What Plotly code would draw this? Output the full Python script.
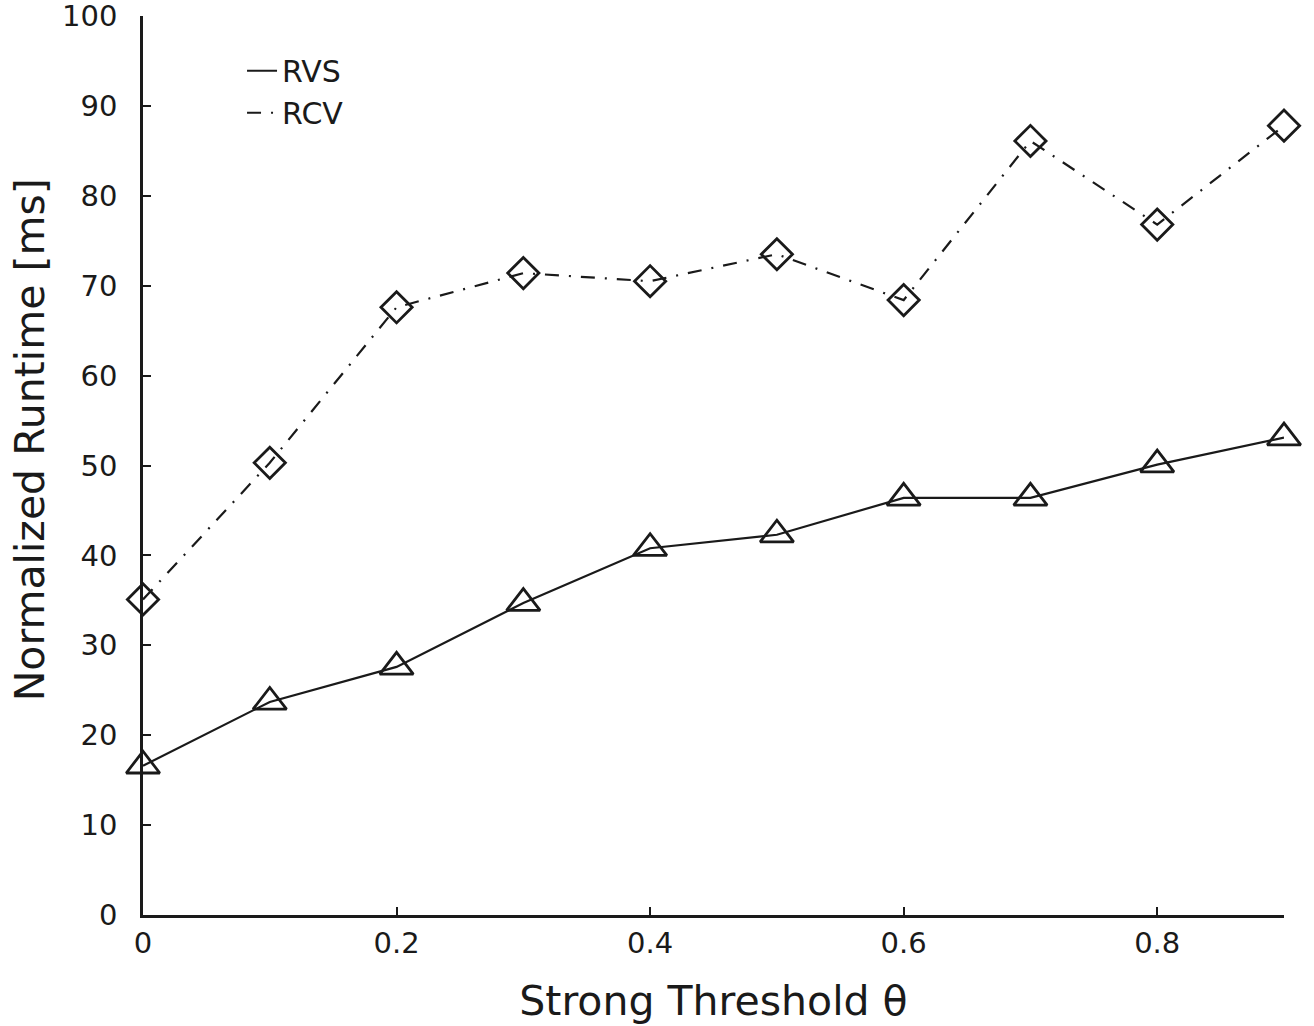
import plotly.graph_objects as go

# Strong threshold values on the x axis
theta = [0, 0.1, 0.2, 0.3, 0.4, 0.5, 0.6, 0.7, 0.8, 0.9]

# Normalized runtime [ms] per method
rvs = [16.6, 23.7, 27.6, 34.7, 40.8, 42.3, 46.4, 46.4, 50.1, 53.1]
rcv = [35.1, 50.3, 67.6, 71.4, 70.5, 73.5, 68.4, 86.1, 76.8, 87.8]

x_ticks = [0, 0.2, 0.4, 0.6, 0.8]
x_tick_labels = ["0", "0.2", "0.4", "0.6", "0.8"]
y_ticks = list(range(0, 101, 10))

black = "#1a1a1a"
font = "DejaVu Sans, Verdana, sans-serif"
rcv_dash = "14px,10px,2px,10px"

fig = go.Figure()
# lines carry the legend entries, markers are drawn separately (legend shows lines only)
fig.add_trace(go.Scatter(x=theta, y=rvs, name="RVS", mode="lines",
                         line=dict(color=black, width=2.2)))
fig.add_trace(go.Scatter(x=theta, y=rcv, name="RCV", mode="lines",
                         line=dict(color=black, width=2.2, dash=rcv_dash)))
fig.add_trace(go.Scatter(
    x=theta, y=rvs, mode="markers", showlegend=False, cliponaxis=False,
    marker=dict(symbol="triangle-up-open", size=29, color=black, line=dict(width=2.8, color=black)),
))
fig.add_trace(go.Scatter(
    x=theta, y=rcv, mode="markers", showlegend=False, cliponaxis=False,
    marker=dict(symbol="diamond-open", size=24, color=black, line=dict(width=2.8, color=black)),
))

axis_common = dict(
    showline=True, linecolor=black, linewidth=2.5,
    ticks="inside", ticklen=8, tickwidth=2, tickcolor=black,
    showgrid=False, zeroline=False, automargin=False,
    ticklabeloverflow="allow",
    tickfont=dict(family=font, size=29, color=black),
)

fig.update_layout(
    width=1314, height=1026,
    paper_bgcolor="white", plot_bgcolor="white",
    margin=dict(l=143, r=30, t=16, b=111),
    font=dict(family=font, color=black),
    xaxis=dict(
        range=[0, 0.9], tickvals=x_ticks, ticktext=x_tick_labels,
        title=dict(text="Strong Threshold θ", font=dict(family=font, size=41, color=black), standoff=28),
        **axis_common,
    ),
    yaxis=dict(
        range=[0, 100], tickvals=y_ticks, ticklabelstandoff=17,
        **axis_common,
    ),
    annotations=[dict(
        text="Normalized Runtime [ms]", textangle=-90, showarrow=False,
        xref="paper", yref="paper", x=-0.099, y=0.528,
        xanchor="center", yanchor="middle",
        font=dict(family=font, size=41, color=black),
    )],
    legend=dict(
        x=0.0868, y=0.968, xanchor="left", yanchor="top",
        bgcolor="rgba(0,0,0,0)", font=dict(family=font, size=30, color=black),
        tracegroupgap=0,
    ),
    showlegend=True,
)

fig.write_html("out.html", config={"displayModeBar": False},
               post_script="document.body.style.margin='0';document.body.style.overflow='hidden';")
